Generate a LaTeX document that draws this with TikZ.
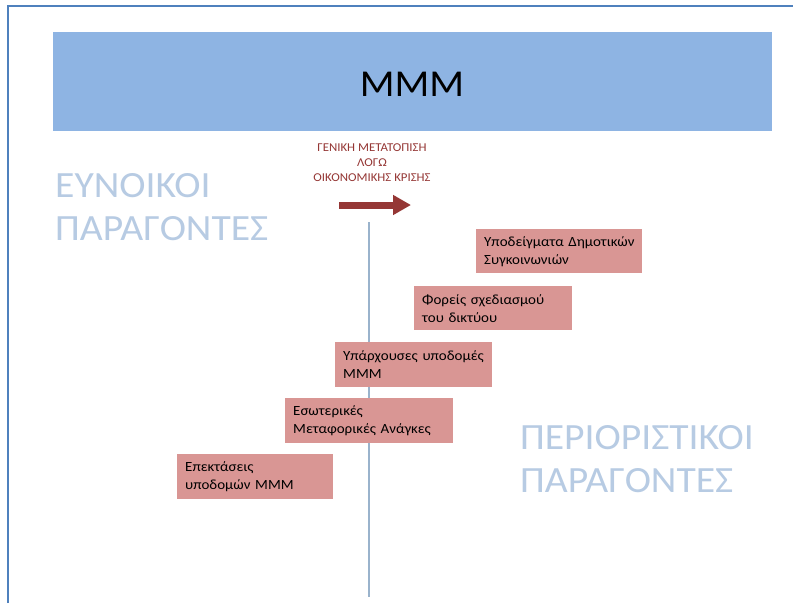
\documentclass[tikz,border=0pt]{standalone}
\usepackage{fontspec}
\setmainfont{Carlito}[FakeStretch=1.07]
\usetikzlibrary{positioning}
\usetikzlibrary{arrows.meta}

\definecolor{bandblue}{HTML}{8EB4E3}
\definecolor{frameblue}{HTML}{4F81BD}
\definecolor{fadeblue}{HTML}{B7CBE3}
\definecolor{axisgray}{HTML}{9AB3CC}
\definecolor{boxred}{HTML}{D99694}
\definecolor{darkred}{HTML}{953735}

\tikzset{
  factor/.style={rectangle, fill=boxred, anchor=north west, align=left,
    inner xsep=8pt, inner ysep=0pt, font=\fontsize{14}{18}\selectfont},
  bigword/.style={anchor=west, text=fadeblue, align=left,
    font=\fontsize{37}{43}\selectfont, inner sep=0pt}
}

\begin{document}
\begin{tikzpicture}[x=1pt,y=-1pt]
\useasboundingbox (0,0) rectangle (793,603);
\fill[white] (0,0) rectangle (793,603);

% frame of the slide
\draw[frameblue, line width=2pt] (8,603) -- (8,6) -- (793,6);

% title band
\fill[bandblue] (53,32) rectangle (772,131);
\node[font=\fontsize{38}{40}\selectfont, inner sep=0pt] (title) at (412,84.5) {ΜΜΜ};

% the two sides
\node[bigword] (favour) at (55,207) {ΕΥΝΟΙΚΟΙ\\ΠΑΡΑΓΟΝΤΕΣ};
\node[bigword] (limit) at (520,459) {ΠΕΡΙΟΡΙΣΤΙΚΟΙ\\ΠΑΡΑΓΟΝΤΕΣ};

% axis
\coordinate (axtop) at (369,222);
\coordinate (axbot) at (369,597);
\draw[axisgray, line width=1.2pt] (axtop) -- (axbot);

% shift
\node[text=darkred, align=center, font=\fontsize{12}{15}\selectfont] (shift) at (372,163)
  {ΓΕΝΙΚΗ ΜΕΤΑΤΟΠΙΣΗ\\ΛΟΓΩ\\ΟΙΚΟΝΟΜΙΚΗΣ ΚΡΙΣΗΣ};
\coordinate (arrfrom) at (339,205);
\coordinate (arrto) at (411,205);
\draw[darkred, line width=7pt, -{Triangle[length=18pt,width=19pt]}] (arrfrom) -- (arrto);

% factors
\node[factor, minimum width=166pt, minimum height=44pt, text width=150pt] (models) at (476,229)
  {Υποδείγματα~Δημοτικών\\Συγκοινωνιών};
\node[factor, minimum width=158pt, minimum height=44pt, text width=142pt] (bodies) at (414,286)
  {Φορείς~σχεδιασμού\\του~δικτύου};
\node[factor, minimum width=157pt, minimum height=45pt, text width=141pt] (infra) at (335,342)
  {Υπάρχουσες~υποδομές\\ΜΜΜ};
\node[factor, minimum width=168pt, minimum height=45pt, text width=152pt] (needs) at (285,398)
  {Εσωτερικές\\Μεταφορικές~Ανάγκες};
\node[factor, minimum width=156pt, minimum height=45pt, text width=140pt] (ext) at (177,454)
  {Επεκτάσεις\\υποδομών~ΜΜΜ};

\end{tikzpicture}
\end{document}
